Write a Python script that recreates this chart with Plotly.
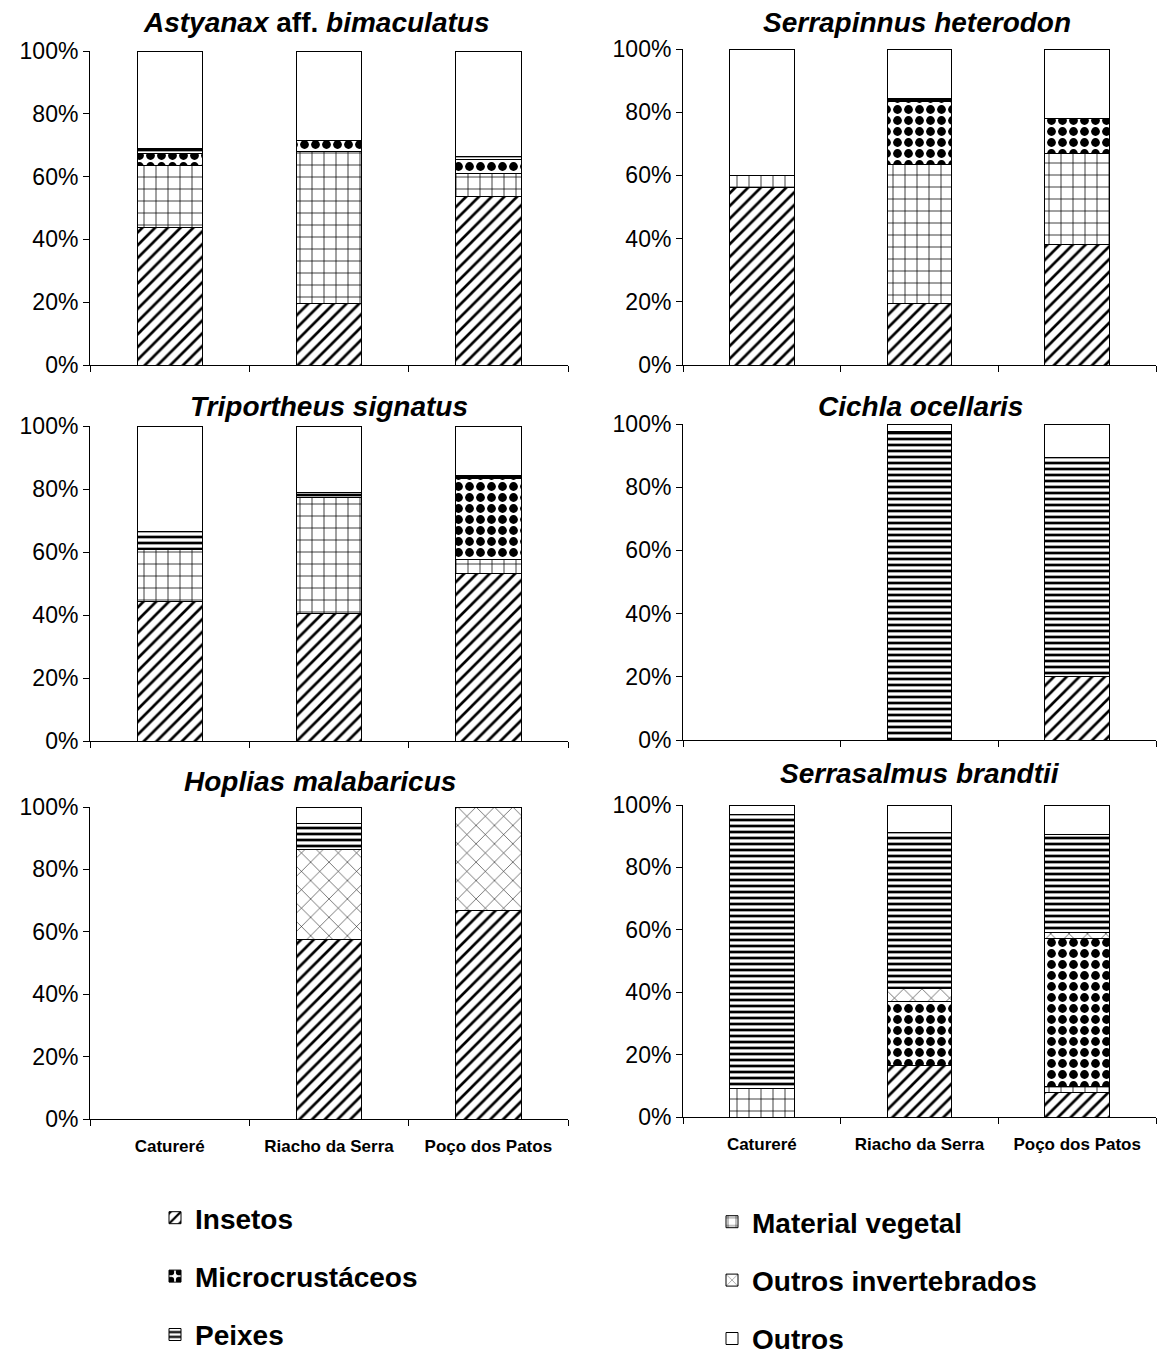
import plotly.graph_objects as go

W, H = 1158, 1361
FONT = "Liberation Sans, Arial, sans-serif"

categories = ["Catureré", "Riacho da Serra", "Poço dos Patos"]
food_items = ["Insetos", "Material vegetal", "Microcrustáceos",
              "Outros invertebrados", "Peixes", "Outros"]
y_tick_values = [0, 20, 40, 60, 80, 100]
y_tick_labels = ["0%", "20%", "40%", "60%", "80%", "100%"]

# --- Astyanax aff. bimaculatus ---
astyanax_insetos = [43.8, 19.7, 53.7]
astyanax_vegetal = [19.8, 48.4, 7.3]
astyanax_micro = [3.8, 3.4, 4.4]
astyanax_outinv = [0, 0, 0]
astyanax_peixes = [1.6, 0, 0.9]
astyanax_outros = [31.0, 28.5, 33.7]

# --- Serrapinnus heterodon ---
serrapinnus_insetos = [56.3, 19.5, 38.2]
serrapinnus_vegetal = [3.6, 44.1, 28.6]
serrapinnus_micro = [0, 19.9, 11.2]
serrapinnus_outinv = [0, 0, 0]
serrapinnus_peixes = [0, 0.8, 0]
serrapinnus_outros = [40.1, 15.7, 22.0]

# --- Triportheus signatus ---
triportheus_insetos = [44.3, 40.4, 53.2]
triportheus_vegetal = [16.6, 37.0, 4.3]
triportheus_micro = [0, 0, 25.7]
triportheus_outinv = [0, 0, 0]
triportheus_peixes = [5.5, 1.4, 1.1]
triportheus_outros = [33.6, 21.2, 15.7]

# --- Cichla ocellaris ---
cichla_insetos = [0, 0, 20.1]
cichla_vegetal = [0, 0, 0]
cichla_micro = [0, 0, 0]
cichla_outinv = [0, 0, 0]
cichla_peixes = [0, 97.6, 69.3]
cichla_outros = [0, 2.4, 10.6]

# --- Hoplias malabaricus ---
hoplias_insetos = [0, 57.6, 66.7]
hoplias_vegetal = [0, 0, 0]
hoplias_micro = [0, 0, 0]
hoplias_outinv = [0, 28.8, 33.3]
hoplias_peixes = [0, 8.3, 0]
hoplias_outros = [0, 5.3, 0]

# --- Serrasalmus brandtii ---
serrasalmus_insetos = [0, 16.5, 7.8]
serrasalmus_vegetal = [9.1, 0, 2.0]
serrasalmus_micro = [0, 20.6, 47.3]
serrasalmus_outinv = [0, 4.2, 2.1]
serrasalmus_peixes = [88.0, 49.9, 31.5]
serrasalmus_outros = [2.9, 8.8, 9.3]

panel_titles = [
    "<b><i>Astyanax</i> aff. <i>bimaculatus</i></b>",
    "<b><i>Serrapinnus heterodon</i></b>",
    "<b><i>Triportheus signatus</i></b>",
    "<b><i>Cichla ocellaris</i></b>",
    "<b><i>Hoplias malabaricus</i></b>",
    "<b><i>Serrasalmus brandtii</i></b>",
]
panel_data = [
    [astyanax_insetos, astyanax_vegetal, astyanax_micro, astyanax_outinv, astyanax_peixes, astyanax_outros],
    [serrapinnus_insetos, serrapinnus_vegetal, serrapinnus_micro, serrapinnus_outinv, serrapinnus_peixes, serrapinnus_outros],
    [triportheus_insetos, triportheus_vegetal, triportheus_micro, triportheus_outinv, triportheus_peixes, triportheus_outros],
    [cichla_insetos, cichla_vegetal, cichla_micro, cichla_outinv, cichla_peixes, cichla_outros],
    [hoplias_insetos, hoplias_vegetal, hoplias_micro, hoplias_outinv, hoplias_peixes, hoplias_outros],
    [serrasalmus_insetos, serrasalmus_vegetal, serrasalmus_micro, serrasalmus_outinv, serrasalmus_peixes, serrasalmus_outros],
]

patterns = {
    "Insetos": dict(shape="/", size=9, solidity=0.3),
    "Material vegetal": dict(shape="+", size=12, solidity=0.12),
    "Microcrustáceos": dict(shape=".", size=11, solidity=0.5),
    "Outros invertebrados": dict(shape="x", size=13, solidity=0.08),
    "Peixes": dict(shape="-", size=6, solidity=0.45),
    "Outros": dict(shape="", size=8, solidity=0.3),
}
legend_of = {"Insetos": "legend", "Microcrustáceos": "legend", "Peixes": "legend",
             "Material vegetal": "legend2", "Outros invertebrados": "legend2", "Outros": "legend2"}

# panel geometry in pixels: (x0, x1, y_top(100%), y_bottom(0%), title x, title y)
geom = [
    (90, 568, 51, 365, 316, 22),
    (683, 1156, 49, 365, 917, 22),
    (90, 568, 426, 741, 329, 407),
    (683, 1156, 424, 740, 920, 407),
    (90, 568, 807, 1119, 320, 781),
    (683, 1156, 805, 1117, 920, 773),
]

fig = go.Figure()
annotations = []
for i, (data, title, g) in enumerate(zip(panel_data, panel_titles, geom)):
    xa = "x" if i == 0 else f"x{i+1}"
    ya = "y" if i == 0 else f"y{i+1}"
    for item, vals in zip(food_items, data):
        p = patterns[item]
        shown = [v if v else None for v in vals]
        fig.add_trace(go.Bar(
            x=categories, y=shown, name=item,
            xaxis=xa, yaxis=ya,
            legendgroup=item, showlegend=(i == 0),
            legend=legend_of[item],
            marker=dict(color="white", line=dict(color="black", width=1),
                        pattern=dict(shape=p["shape"], size=p["size"], solidity=p["solidity"],
                                     fgcolor="black", bgcolor="white", fillmode="replace")),
            hovertemplate="%{x}: %{y}%<extra>" + item + "</extra>",
        ))
    x0, x1, yt, yb, tx, ty = g
    xkey = "xaxis" if i == 0 else f"xaxis{i+1}"
    ykey = "yaxis" if i == 0 else f"yaxis{i+1}"
    bottom = i >= 4
    fig.layout[xkey] = dict(
        domain=[x0 / W, x1 / W], anchor=ya, type="category",
        categoryorder="array", categoryarray=categories, range=[-0.5, 2.5],
        showline=True, linecolor="black", linewidth=1,
        ticks="outside", tickson="boundaries", ticklen=6, tickcolor="black",
        showticklabels=bottom, showgrid=False, zeroline=False,
        tickfont=dict(family=FONT, size=17, color="black", weight="bold"),
        ticklabelstandoff=12,
    )
    fig.layout[ykey] = dict(
        domain=[1 - yb / H, 1 - yt / H], anchor=xa, range=[0, 100],
        tickmode="array", tickvals=y_tick_values, ticktext=y_tick_labels,
        showline=True, linecolor="black", linewidth=1,
        ticks="outside", ticklen=6, tickcolor="black",
        showgrid=False, zeroline=False,
        tickfont=dict(family=FONT, size=23, color="black"),
    )
    annotations.append(dict(
        text=title, x=tx / W, y=1 - ty / H, xref="paper", yref="paper",
        xanchor="center", yanchor="middle", showarrow=False,
        font=dict(family=FONT, size=28, color="black"),
    ))

fig.update_layout(
    width=W, height=H, barmode="stack", bargap=0.59,
    margin=dict(l=0, r=0, t=0, b=0, autoexpand=False),
    paper_bgcolor="white", plot_bgcolor="white",
    annotations=annotations,
    font=dict(family=FONT, color="black"),
    legend=dict(x=155 / W, y=1 - 1193 / H, xanchor="left", yanchor="top",
                orientation="v", traceorder="grouped", tracegroupgap=19,
                font=dict(family=FONT, size=28, color="black", weight="bold"),
                bgcolor="rgba(0,0,0,0)"),
    legend2=dict(x=712 / W, y=1 - 1197 / H, xanchor="left", yanchor="top",
                 orientation="v", traceorder="grouped", tracegroupgap=19,
                 font=dict(family=FONT, size=28, color="black", weight="bold"),
                 bgcolor="rgba(0,0,0,0)"),
)

fig.write_html("out.html")
